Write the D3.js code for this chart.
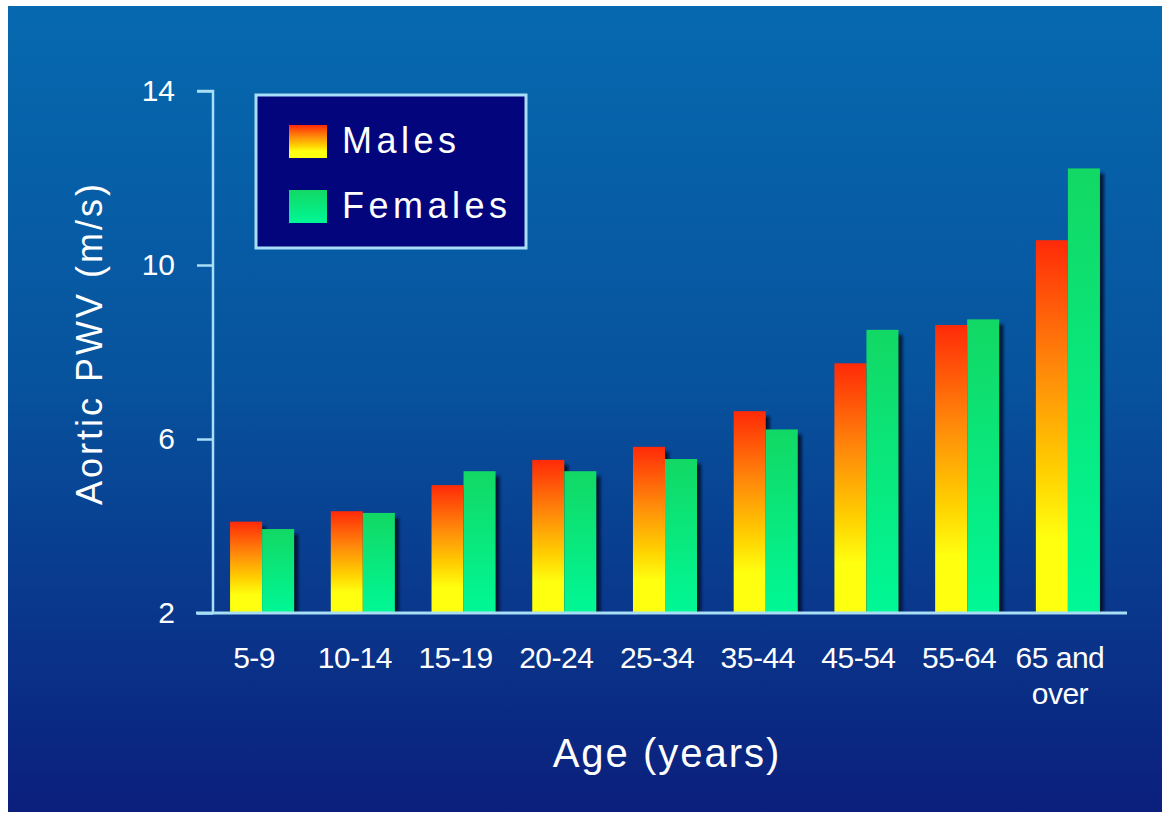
<!DOCTYPE html>
<html>
<head>
<meta charset="utf-8">
<script src="https://cdn.jsdelivr.net/npm/d3@7"></script>
<style>
  body { margin: 0; background: #fff; }
  text { font-family: "Liberation Sans", Arial, sans-serif; fill: #fff; }
</style>
</head>
<body>
<div id="chart"></div>
<script>
var w = 1169;
var h = 818;

// data
var categories = ["5-9", "10-14", "15-19", "20-24", "25-34", "35-44", "45-54", "55-64", "65 and|over"];
var males = [4.1, 4.34, 4.94, 5.52, 5.82, 6.64, 7.74, 8.62, 10.57];
var females = [3.93, 4.3, 5.26, 5.26, 5.54, 6.22, 8.51, 8.75, 12.22];
var yTicks = [2, 6, 10, 14];
var seriesNames = ["Males", "Females"];

var svg = d3.select("#chart")
  .append("svg")
  .attr("width", w)
  .attr("height", h);

var defs = svg.append("defs");

// background gradient
var bg = defs.append("linearGradient")
  .attr("id", "bg")
  .attr("x1", 0).attr("y1", 0).attr("x2", 0).attr("y2", 1);
bg.append("stop").attr("offset", "0%").attr("stop-color", "#0669af");
bg.append("stop").attr("offset", "45%").attr("stop-color", "#07549e");
bg.append("stop").attr("offset", "100%").attr("stop-color", "#0b1f7c");

// males: red top -> orange -> yellow bottom
var gm = defs.append("linearGradient")
  .attr("id", "gMale")
  .attr("x1", 0).attr("y1", 0).attr("x2", 0).attr("y2", 1);
gm.append("stop").attr("offset", "0%").attr("stop-color", "#ff2a08");
gm.append("stop").attr("offset", "35%").attr("stop-color", "#ff8a0a");
gm.append("stop").attr("offset", "62%").attr("stop-color", "#ffd000");
gm.append("stop").attr("offset", "80%").attr("stop-color", "#ffff10");
gm.append("stop").attr("offset", "100%").attr("stop-color", "#ffff10");

var gf = defs.append("linearGradient")
  .attr("id", "gFemale")
  .attr("x1", 0).attr("y1", 0).attr("x2", 0).attr("y2", 1);
gf.append("stop").attr("offset", "0%").attr("stop-color", "#12d864");
gf.append("stop").attr("offset", "100%").attr("stop-color", "#00f896");

var blur = defs.append("filter").attr("id", "shadow")
  .attr("x", "-20%").attr("y", "-5%").attr("width", "140%").attr("height", "110%");
blur.append("feGaussianBlur").attr("stdDeviation", 1.5);

svg.append("rect")
  .attr("x", 8).attr("y", 6)
  .attr("width", 1154).attr("height", 806)
  .attr("fill", "url(#bg)");

var fills = ["url(#gMale)", "url(#gFemale)"];

var x0 = d3.scaleBand()
  .domain(categories)
  .range([207, 1123])
  .paddingInner(0.364)
  .paddingOuter(0.229);

var x1 = d3.scaleBand()
  .domain(seriesNames)
  .range([0, x0.bandwidth()]);

var y = d3.scaleLinear()
  .domain([2, 14])
  .range([613, 91]);

var rows = categories.map(function(c, i) {
  return { cat: c, vals: [males[i], females[i]] };
});

var groups = svg.selectAll("g.grp")
  .data(rows)
  .enter()
  .append("g")
  .attr("class", "grp")
  .attr("transform", function(d) { return "translate(" + x0(d.cat) + ",0)"; });

// shadows first
groups.selectAll("rect.sh")
  .data(function(d) { return d.vals; })
  .enter()
  .append("rect")
  .attr("class", "sh")
  .attr("x", function(d, i) { return x1(seriesNames[i]) + 4; })
  .attr("y", function(d) { return y(d) + 5; })
  .attr("width", x1.bandwidth())
  .attr("height", function(d) { return y(2) - y(d) - 5; })
  .attr("fill", "#001028")
  .attr("opacity", 0.85)
  .attr("filter", "url(#shadow)");

groups.selectAll("rect.bar")
  .data(function(d) { return d.vals; })
  .enter()
  .append("rect")
  .attr("class", "bar")
  .attr("x", function(d, i) { return x1(seriesNames[i]); })
  .attr("y", function(d) { return y(d); })
  .attr("width", x1.bandwidth())
  .attr("height", function(d) { return y(2) - y(d); })
  .attr("fill", function(d, i) { return fills[i]; });

// axes
var axisColor = "#a8def6";

var yAxis = svg.append("g")
  .attr("transform", "translate(213,0)")
  .call(d3.axisLeft(y).tickValues(yTicks).tickSize(16).tickPadding(22));
yAxis.select(".domain").attr("stroke", axisColor).attr("stroke-width", 2.5)
  .attr("d", "M-16," + y(14) + "H0V" + y(2));
yAxis.selectAll(".tick line").attr("stroke", axisColor).attr("stroke-width", 2.5);
yAxis.selectAll(".tick text")
  .attr("fill", "#fff")
  .style("font-size", "30px")
  .style("font-family", "Liberation Sans, Arial, sans-serif");

svg.append("line")
  .attr("x1", 196).attr("x2", 1127)
  .attr("y1", y(2)).attr("y2", y(2))
  .attr("stroke", axisColor)
  .attr("stroke-width", 3);

// x tick labels
var xl = svg.selectAll("text.xl")
  .data(categories)
  .enter()
  .append("text")
  .attr("class", "xl")
  .attr("text-anchor", "middle")
  .attr("x", function(d) { return x0(d) + x0.bandwidth() / 2 - 8; })
  .attr("y", 668)
  .style("font-size", "30px")
  .style("letter-spacing", "-0.5px");
xl.each(function(d) {
  var parts = d.split("|");
  var t = d3.select(this);
  parts.forEach(function(p, i) {
    t.append("tspan")
      .attr("x", t.attr("x"))
      .attr("dy", i === 0 ? 0 : 36)
      .text(p);
  });
});

// axis titles
svg.append("text")
  .attr("x", 667)
  .attr("y", 767)
  .attr("text-anchor", "middle")
  .style("font-size", "40px")
  .style("letter-spacing", "2px")
  .text("Age (years)");

svg.append("text")
  .attr("transform", "translate(102,343) rotate(-90)")
  .attr("text-anchor", "middle")
  .style("font-size", "36px")
  .style("letter-spacing", "3px")
  .text("Aortic PWV (m/s)");

// legend
var legend = svg.append("g");
legend.append("rect")
  .attr("x", 256).attr("y", 95)
  .attr("width", 270).attr("height", 153)
  .attr("fill", "#02057c")
  .attr("stroke", axisColor)
  .attr("stroke-width", 3);

var items = legend.selectAll("g.item")
  .data(seriesNames)
  .enter()
  .append("g")
  .attr("class", "item")
  .attr("transform", function(d, i) { return "translate(289," + (125 + i * 65) + ")"; });

items.append("rect")
  .attr("width", 38)
  .attr("height", 33)
  .attr("fill", function(d, i) { return fills[i]; });

items.append("text")
  .attr("x", 53)
  .attr("y", 28)
  .style("font-size", "36px")
  .style("letter-spacing", "4.5px")
  .text(function(d) { return d; });
</script>
</body>
</html>
